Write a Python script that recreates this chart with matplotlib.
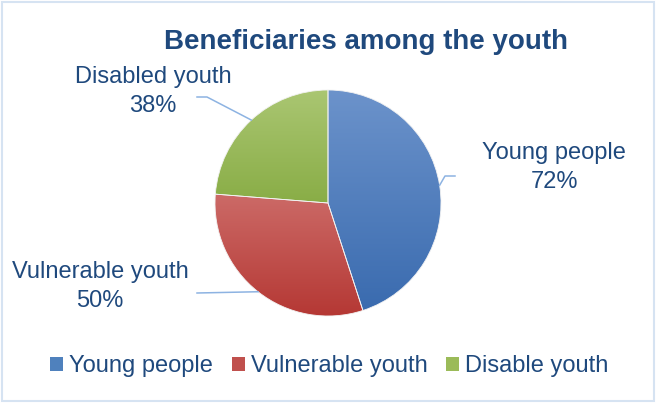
import matplotlib.pyplot as plt
import numpy as np
from matplotlib.patches import Patch, Rectangle
from matplotlib.colors import LinearSegmentedColormap

# Beneficiary groups and their shares
groups = ['Young people', 'Vulnerable youth', 'Disabled youth']
legend_names = ['Young people', 'Vulnerable youth', 'Disable youth']
shares = [72, 50, 38]

# (top, bottom) gradient colours per slice, plus the flat legend colour
grad_top = ['#6C93CB', '#CC6A67', '#AAC672']
grad_bottom = ['#3A6BAF', '#B53834', '#89AD46']
flat = ['#4F81BD', '#C0504D', '#9BBB59']

text_col = '#1F497D'
line_col = '#8DB3E2'
font = ['Liberation Sans', 'DejaVu Sans']

W, H = 656, 403
fig = plt.figure(figsize=(W / 100, H / 100), dpi=100)
fig.patch.set_facecolor('white')

# pie centre (328, 203) px, radius 113 px
cx, cy, r = 328, 203, 113
ax = fig.add_axes([(cx - r) / W, 1 - (cy + r) / H, 2 * r / W, 2 * r / H])
wedges, _ = ax.pie(shares, startangle=90, counterclock=False,
                   wedgeprops=dict(linewidth=0))
ax.set_xlim(-1, 1)
ax.set_ylim(-1, 1)
ax.set_aspect('equal')
ax.axis('off')

# vertical gradient inside every wedge
for w, c0, c1 in zip(wedges, grad_top, grad_bottom):
    w.set_facecolor('none')
    ext = w.get_path().get_extents(w.get_patch_transform())
    cmap = LinearSegmentedColormap.from_list('g', [c1, c0])
    grad = np.linspace(0, 1, 256).reshape(-1, 1)
    im = ax.imshow(grad, cmap=cmap, origin='lower', aspect='auto',
                   extent=[ext.x0, ext.x1, ext.y0, ext.y1], zorder=1)
    im.set_clip_path(w)
    w.set_edgecolor('#F2F2F2')
    w.set_linewidth(0.6)
    w.set_zorder(2)
ax.set_xlim(-1, 1)
ax.set_ylim(-1, 1)

# overlay in pixel coordinates for labels and leader lines
ov = fig.add_axes([0, 0, 1, 1], facecolor='none')
ov.set_xlim(0, W)
ov.set_ylim(H, 0)
ov.axis('off')

def edge_point(w):
    mid = np.deg2rad((w.theta1 + w.theta2) / 2)
    return cx + r * np.cos(mid), cy - r * np.sin(mid)

# label placement: (text x, baseline of the % line, leader path after the edge point)
label_pos = {
    'Young people': (554, 188, [(445, 176), (455, 176)]),
    'Vulnerable youth': (100, 307, [(197, 293)]),
    'Disabled youth': (153, 112, [(207, 97), (197, 97)]),
}

for w, name, val in zip(wedges, groups, shares):
    tx, ty, path = label_pos[name]
    pts = [edge_point(w)] + path
    xs, ys = zip(*pts)
    ov.plot(xs, ys, color=line_col, linewidth=1.1)
    ov.text(tx, ty, f'{name}\n{val}%', ha='center', va='baseline',
            fontsize=17, color=text_col, family=font, linespacing=1.4)

ov.text(366, 49, 'Beneficiaries among the youth', ha='center', va='baseline',
        fontsize=20, fontweight='bold', color=text_col, family=font)

# thin frame round the chart
ov.add_patch(Rectangle((1.5, 1.5), W - 4, H - 4, fill=False,
                       edgecolor='#D6E3F2', linewidth=1.5))

handles = [Patch(facecolor=c, edgecolor='none') for c in flat]
leg = fig.legend(handles, legend_names, loc='center', ncol=3,
                 bbox_to_anchor=(0.502, 1 - 366 / H), frameon=False,
                 prop=dict(family=font, size=17), labelcolor=text_col,
                 handlelength=0.55, handleheight=0.55, handletextpad=0.25,
                 columnspacing=0.8, borderpad=0)

fig.savefig('out.png', dpi=100, facecolor='white')
